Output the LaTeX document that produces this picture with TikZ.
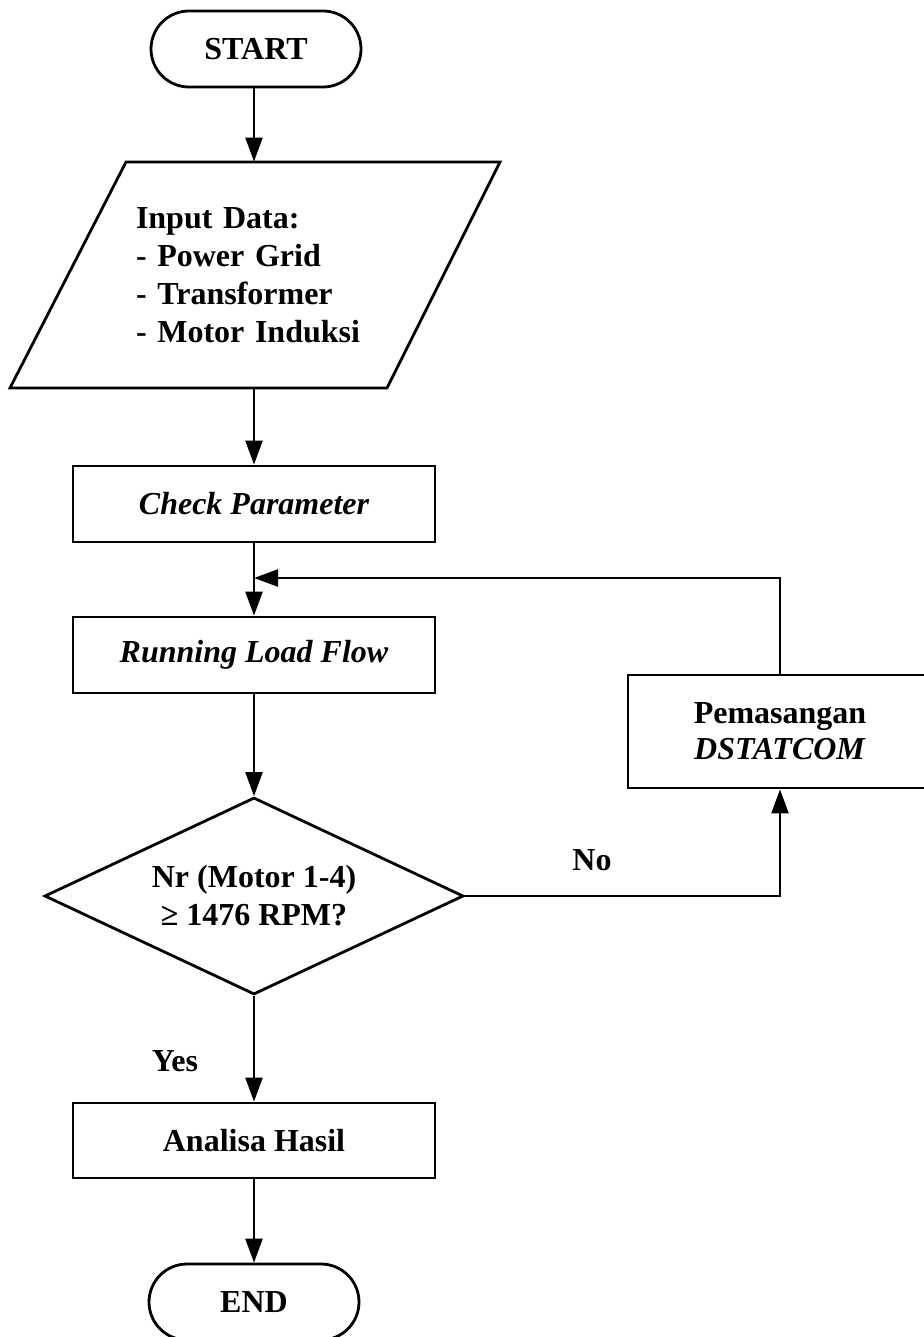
\documentclass[tikz,border=0pt]{standalone}
\usepackage{fontspec}
\setmainfont{Liberation Serif}
\usetikzlibrary{arrows.meta,shapes.geometric}
\begin{document}
\begin{tikzpicture}[x=0.5pt,y=-0.5pt,
  every node/.style={font=\fontsize{16pt}{19pt}\selectfont\bfseries, inner sep=0pt},
  bi/.style={font=\fontsize{16pt}{19pt}\selectfont\bfseries\itshape},
  outline/.style={draw, line width=1.4pt},
  box/.style={outline, rectangle, minimum width=181pt, minimum height=38pt, align=center},
  term/.style={outline, rectangle, rounded corners=19pt, minimum width=105pt, minimum height=38pt},
  arr/.style={line width=1.2pt, -{Triangle[width=8.5pt,length=12pt]}}]
\useasboundingbox (0,0) rectangle (924,1337);
\fill[white] (0,0) rectangle (924,1337);

\node[term] (start) at (256,49) {START};

\node[minimum height=113pt, text width=118pt, align=left] (input) at (254,275)
  {Input Data:\\- Power Grid\\- Transformer\\- Motor Induksi};
\draw[outline] (126,162) -- (500,162) -- (387,388) -- (10,388) -- cycle;

\node[box, bi] (check) at (254,504) {Check Parameter};
\node[box, bi] (run) at (254,655) {Running Load Flow};
\node[outline, diamond, minimum width=209.5pt, minimum height=98.5pt, aspect=2.13, align=center] (dia) at (254,896)
  {Nr (Motor 1-4)\\≥ 1476 RPM?};
\node[box, minimum width=152pt, minimum height=56.5pt, font=\fontsize{16pt}{18pt}\selectfont\bfseries] (pem) at (780,731.5)
  {Pemasangan\\\textit{DSTATCOM}};
\node[box, minimum height=37.5pt] (ana) at (254,1140.5) {Analisa Hasil};
\node[term] (stop) at (254,1302) {END};

\node (no) at (592,860) {No};
\node (yes) at (175,1061) {Yes};

\coordinate (join) at (254,578);

\draw[arr] (start.south -| input.north) -- (input.north);
\draw[arr] (input.south) -- (check);
\draw[arr] (check) -- (run);
\draw[arr] (pem.north) |- (join);
\draw[arr] (run) -- (dia);
\draw[arr] (dia.east) -| (pem.south);
\draw[arr] (dia) -- (ana);
\draw[arr] (ana) -- (stop);
\end{tikzpicture}
\end{document}
